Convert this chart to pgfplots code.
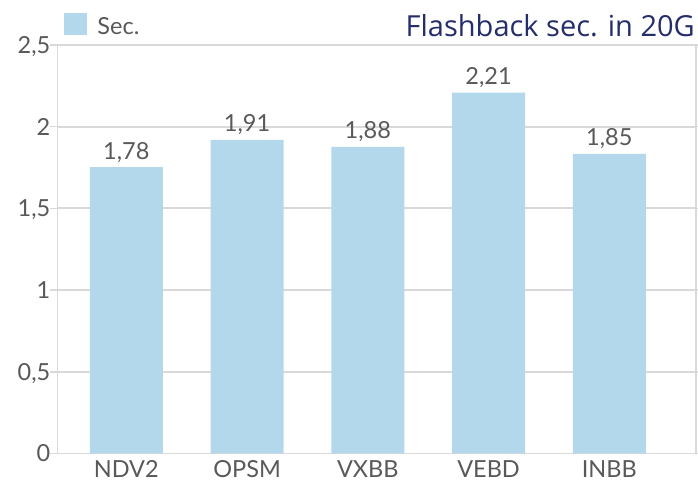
\documentclass[border=0pt]{standalone}
\usepackage{fontspec}
\setmainfont{Lato}
\newfontfamily\titlefont{Open Sans}
\usepackage{pgfplots}
\pgfplotsset{compat=1.18}
\definecolor{barblue}{HTML}{B4D8EB}
\definecolor{txtgray}{HTML}{595959}
\definecolor{gridgray}{HTML}{D9D9D9}
\definecolor{navy}{HTML}{262D6B}
\pgfplotstableread{
x y lab
0 1.753 1,78
1 1.919 1,91
2 1.876 1,88
3 2.208 2,21
4 1.833 1,85
}\datatab
\begin{document}
\begin{tikzpicture}
\useasboundingbox (-57.5pt,-32.5pt) rectangle (640.5pt,453.5pt);
\begin{axis}[
  at={(0pt,0pt)}, anchor=south west,
  scale only axis, width=638.5pt, height=408.5pt,
  ymin=0, ymax=2.5, ytick={0,0.5,1,1.5,2,2.5},
  xmin=-0.570, xmax=4.718, xtick={0,1,2,3,4},
  xticklabels={NDV2,OPSM,VXBB,VEBD,INBB},
  axis line style={gridgray, line width=1.8pt},
  ymajorgrids, grid style={gridgray, line width=1.8pt},
  tick align=outside, major tick length=7pt,
  ytick style={gridgray, line width=1.5pt}, xtick style={draw=none},
  tick label style={txtgray, font=\fontsize{23.5}{26}\selectfont, inner sep=0pt},
  /pgf/number format/use comma, /pgf/number format/fixed,
  /pgf/number format/assume math mode=true,
  yticklabel style={anchor=base east, yshift=-8.5pt},
  xticklabel style={anchor=north},
  legend style={at={(0,1)}, anchor=south west, draw=none, fill=none,
    xshift=6.5pt, yshift=9pt, inner sep=0pt, outer sep=0pt, column sep=11pt,
    nodes={inner sep=0pt, outer sep=0pt, text=txtgray, font=\fontsize{23.5}{26}\selectfont},
    font=\fontsize{23.5}{26}\selectfont, text=txtgray},
  legend image code/.code={\fill[barblue] (0pt,-8pt) rectangle (22.5pt,14pt);},
  nodes near coords, point meta=explicit symbolic,
  nodes near coords style={txtgray, font=\fontsize{23.5}{26}\selectfont, anchor=base, inner sep=0pt, yshift=8pt},
  clip=false,
]
\addplot[ybar, bar width=73pt, fill=barblue, draw=none] table[x=x, y=y, meta=lab] {\datatab};
\addlegendentry{Sec.}
\node[anchor=base east, navy, inner sep=0pt, font=\titlefont\fontsize{29}{32}\selectfont] at ([xshift=-1pt, yshift=8.3pt]rel axis cs:1,1) {Flashback sec. in 20G};
\end{axis}
\end{tikzpicture}
\end{document}
